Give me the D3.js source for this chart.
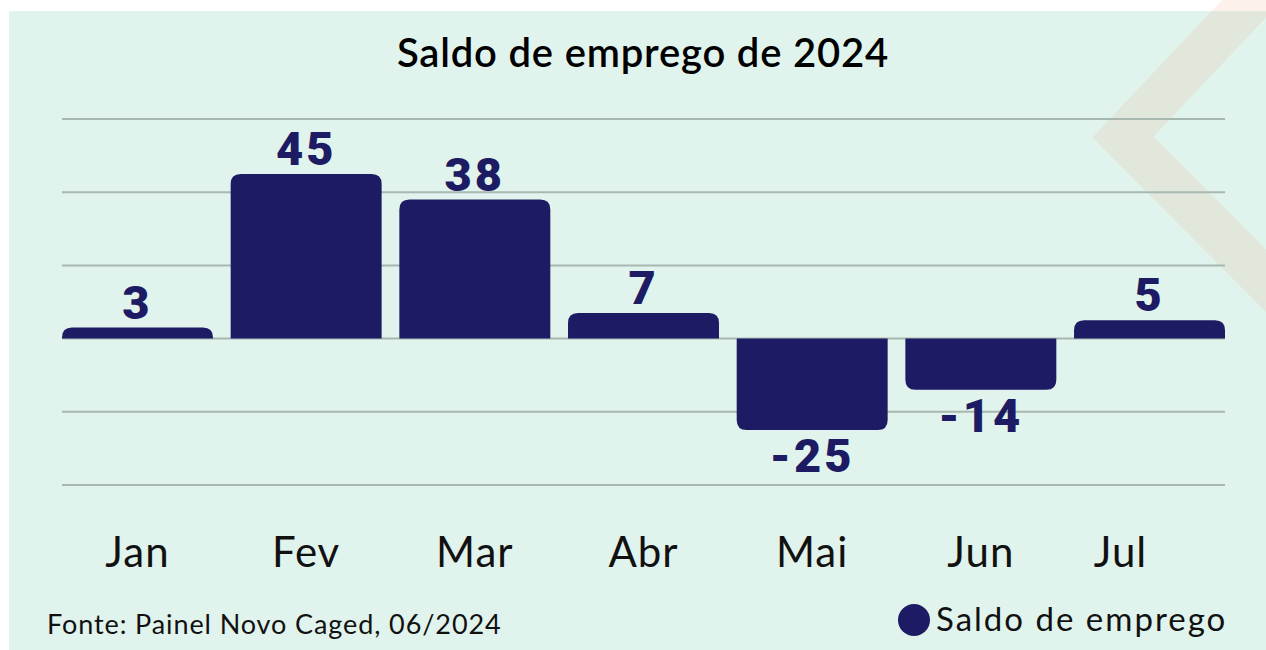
<!DOCTYPE html>
<html><head><meta charset="utf-8">
<script src="https://cdn.jsdelivr.net/npm/d3@7"></script>
<style>html,body{margin:0;padding:0;background:#fff;}svg{display:block;}</style>
</head><body>
<svg id="c" width="1266" height="650"></svg>
<script>
const months = ["Jan","Fev","Mar","Abr","Mai","Jun","Jul"];
const saldo = [3, 45, 38, 7, -25, -14, 5];
const gridTicks = [60, 40, 20, 0, -20, -40];
const title = "Saldo de emprego de 2024";
const seriesName = "Saldo de emprego";
const source = "Fonte: Painel Novo Caged, 06/2024";

const W = 1266, H = 650;
const navy = "#1c1b63";
const svg = d3.select("#c");

// panel background
svg.append("rect").attr("x", 9).attr("y", 11).attr("width", W - 9).attr("height", H - 11).attr("fill", "#e0f3ec");

// decorative chevron
svg.append("path")
  .attr("d", d3.line()([[1290, -40], [1123, 137], [1300, 315]]))
  .attr("fill", "none").attr("stroke", "rgb(240,150,90)").attr("stroke-opacity", 0.12)
  .attr("stroke-width", 44);

const x = d3.scaleBand().domain(months).range([62, 1225]).paddingInner(0.105).paddingOuter(0);
const y = d3.scaleLinear().domain([-40, 60]).range([485, 119]);

// gridlines
svg.append("g").selectAll("line").data(gridTicks).join("line")
  .attr("x1", 62).attr("x2", 1225)
  .attr("y1", d => y(d)).attr("y2", d => y(d))
  .attr("stroke", "#a7b8b0").attr("stroke-width", 2);

// bars with rounded outer corners
const r = 10;
function barPath(d, i) {
  const x0 = x(months[i]), w = x.bandwidth();
  const y0 = y(0), y1 = y(d);
  const rr = Math.min(r, Math.abs(y1 - y0));
  if (d >= 0) {
    return `M${x0},${y0} L${x0},${y1 + rr} Q${x0},${y1} ${x0 + rr},${y1} L${x0 + w - rr},${y1} Q${x0 + w},${y1} ${x0 + w},${y1 + rr} L${x0 + w},${y0} Z`;
  } else {
    return `M${x0},${y0} L${x0},${y1 - rr} Q${x0},${y1} ${x0 + rr},${y1} L${x0 + w - rr},${y1} Q${x0 + w},${y1} ${x0 + w},${y1 - rr} L${x0 + w},${y0} Z`;
  }
}
svg.append("g").selectAll("path").data(saldo).join("path")
  .attr("d", (d, i) => barPath(d, i)).attr("fill", navy);

// value labels
svg.append("g").selectAll("text").data(saldo).join("text")
  .attr("x", (d, i) => x(months[i]) + x.bandwidth() / 2)
  .attr("y", d => d >= 0 ? y(d) - 9 : y(d) + 42)
  .attr("text-anchor", "middle")
  .attr("font-family", "Roboto, 'Liberation Sans', sans-serif")
  .attr("font-weight", 900).attr("font-size", 47).attr("letter-spacing", 3)
  .attr("fill", navy)
  .text(d => d);

// month labels
const nudge = {Jul: -29};
svg.append("g").selectAll("text").data(months).join("text")
  .attr("x", m => x(m) + x.bandwidth() / 2 + (nudge[m] || 0))
  .attr("y", 567)
  .attr("text-anchor", "middle")
  .attr("font-family", "Lato, 'Open Sans', sans-serif")
  .attr("font-size", 42).attr("letter-spacing", 1).attr("fill", "#111")
  .text(m => m);

// title
svg.append("text").attr("x", 643).attr("y", 67).attr("text-anchor", "middle")
  .attr("font-family", "Lato, 'Open Sans', sans-serif").attr("font-weight", 600)
  .attr("font-size", 40).attr("letter-spacing", 0.8).attr("fill", "#000").text(title);

// source
svg.append("text").attr("x", 47).attr("y", 634)
  .attr("font-family", "Lato, 'Open Sans', sans-serif")
  .attr("font-size", 27).attr("letter-spacing", 0.9).attr("fill", "#111").text(source);

// legend
svg.append("circle").attr("cx", 914).attr("cy", 620).attr("r", 16).attr("fill", navy);
svg.append("text").attr("x", 936).attr("y", 631)
  .attr("font-family", "Lato, 'Open Sans', sans-serif")
  .attr("font-size", 33).attr("letter-spacing", 2).attr("fill", "#111").text(seriesName);
</script>
</body></html>
